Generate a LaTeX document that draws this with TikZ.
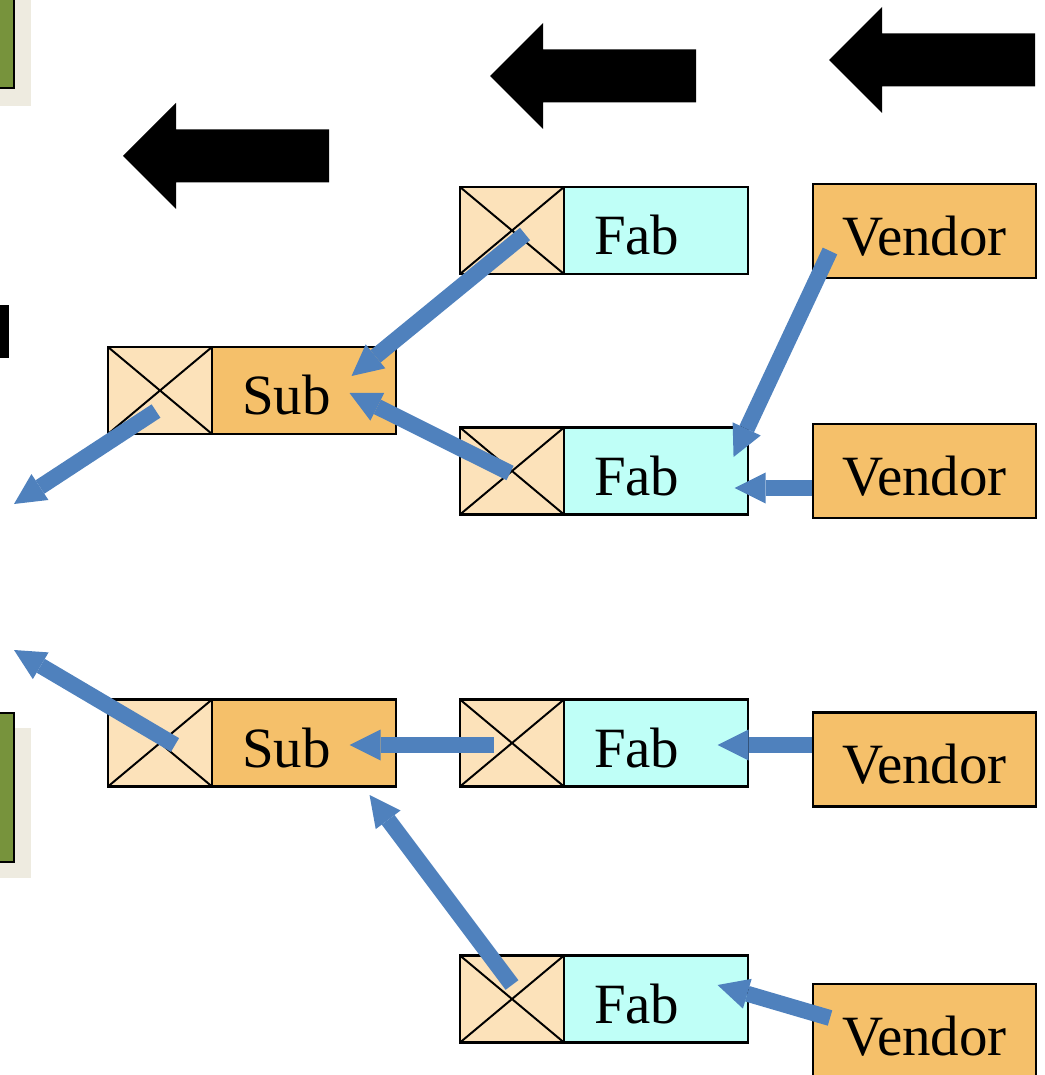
\documentclass[tikz,border=0pt]{standalone}
\usepackage{fontspec}
\setmainfont{Liberation Serif}
\usepackage{tikz}
\usetikzlibrary{arrows.meta,calc,positioning}
\definecolor{peach}{RGB}{252,226,186}
\definecolor{subtan}{RGB}{245,192,106}
\definecolor{fabcyan}{RGB}{191,255,247}
\definecolor{flowblue}{RGB}{79,129,189}
\definecolor{boardgreen}{RGB}{119,147,60}
\definecolor{boardshade}{RGB}{238,235,224}
\tikzset{fontscale/.style = {font=\fontsize{40.5}{48}\selectfont}}
\tikzstyle{xcell}=[rectangle, draw, line width=1.9pt, fill=peach, minimum width=2.6cm, minimum height=2.175cm, outer sep=0pt,
  path picture={\draw[line width=1.4pt] (path picture bounding box.north west) -- (path picture bounding box.south east)
    (path picture bounding box.south west) -- (path picture bounding box.north east);}]
\tikzstyle{partcell}=[rectangle, draw, line width=1.9pt, minimum width=4.6cm, minimum height=2.175cm, outer sep=0pt,
  inner xsep=0.75cm, text width=3.1cm, align=left, text height=1.2cm, text depth=0pt, fontscale]
\tikzstyle{vendorcell}=[rectangle, draw, line width=1.9pt, fill=subtan, minimum width=5.575cm, minimum height=2.35cm,
  text height=1.2cm, text depth=0pt, fontscale]

\begin{document}
\begin{tikzpicture}[x=0.025cm, y=-0.025cm,
  flow/.style={line width=0.4cm, color=flowblue, -{Triangle[length=0.775cm, width=0.775cm, line width=0pt]}}]
\useasboundingbox (0,0) rectangle (1044,1075);

% boards cut off at the left edge
\fill[boardshade] (-23,-20) rectangle (31,106);
\draw[line width=2pt, fill=boardgreen] (-40,-36) rectangle (14,88);
\fill[boardshade] (-23,728) rectangle (31,878);
\draw[line width=2pt, fill=boardgreen] (-40,713) rectangle (14,862);
\fill (-30,305) rectangle (9,358);

% flow direction
\foreach \tx/\ty in {123/156, 490/76, 829/60}
  \fill (\tx,\ty) -- ++(53,-53) -- ++(0,26.5) -- ++(153,0) -- ++(0,53) -- ++(-153,0) -- ++(0,26.5) -- cycle;

% sub assemblies
\node[xcell] (s1x) at (160,390.5) {};
\node[partcell, fill=subtan, right=0pt of s1x] (s1) {Sub};
\node[xcell] (s2x) at (160,743) {};
\node[partcell, fill=subtan, right=0pt of s2x] (s2) {Sub};

% fabrication
\node[xcell] (f1x) at (512,230.5) {};
\node[partcell, fill=fabcyan, right=0pt of f1x] (f1) {Fab};
\node[xcell] (f2x) at (512,471) {};
\node[partcell, fill=fabcyan, right=0pt of f2x] (f2) {Fab};
\node[xcell] (f3x) at (512,743) {};
\node[partcell, fill=fabcyan, right=0pt of f3x] (f3) {Fab};
\node[xcell] (f4x) at (512,999) {};
\node[partcell, fill=fabcyan, right=0pt of f4x] (f4) {Fab};

% vendors
\node[vendorcell] (v1) at (924.5,231) {Vendor};
\node[vendorcell] (v2) at (924.5,471) {Vendor};
\node[vendorcell] (v3) at (924.5,759.5) {Vendor};
\node[vendorcell] (v4) at (924.5,1031) {Vendor};

% free ends
\coordinate (out1) at (14,504);
\coordinate (out2) at (14,650);

% material links
\draw[flow] ([shift={(13,3.5)}]f1x.center) -- ([shift={(47.5,-14.5)}]s1.center);
\draw[flow] ([shift={(-2,2)}]f2x.center) -- ([shift={(45.5,2.5)}]s1.center);
\draw[flow] ([shift={(-94.5,20)}]v1.center) -- ([shift={(77.5,-14)}]f2.center);
\draw[flow] ([shift={(0,17)}]v2.west) -- ([shift={(78.5,17)}]f2.center);
\draw[flow] ([shift={(-4,20.5)}]s1x.center) -- (out1);
\draw[flow] ([shift={(15,2)}]s2x.center) -- (out2);
\draw[flow] ([shift={(-18,2)}]f3x.center) -- ([shift={(45.5,2)}]s2.center);
\draw[flow] ([shift={(0,-14.5)}]v3.west) -- ([shift={(61.5,2)}]f3.center);
\draw[flow] ([shift={(0,-14)}]f4x.center) -- ([shift={(65.5,52)}]s2.center);
\draw[flow] ([shift={(-94.5,-13)}]v4.center) -- ([shift={(61.5,-14)}]f4.center);
\end{tikzpicture}
\end{document}
